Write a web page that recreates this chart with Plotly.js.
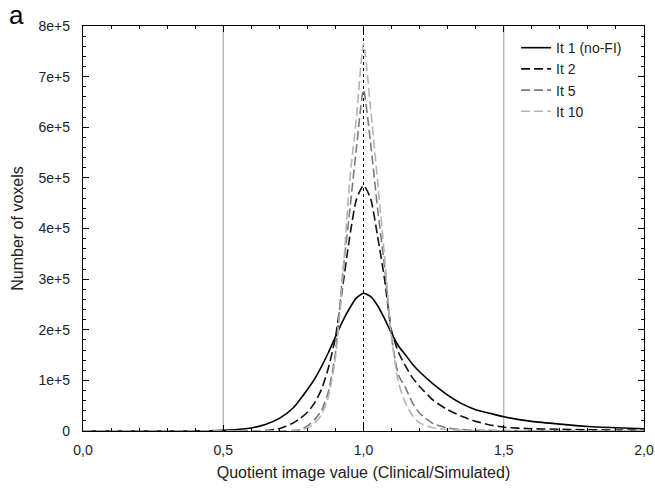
<!DOCTYPE html>
<html>
<head>
<meta charset="utf-8">
<script src="https://cdn.plot.ly/plotly-3.0.1.min.js"></script>
<style>html,body{margin:0;padding:0;background:#fff;}#chart{width:655px;height:491px;}</style>
</head>
<body>
<div id="chart"></div>
<script>
// x positions (quotient image value)
const xVals = [0.0, 0.1, 0.2, 0.3, 0.4, 0.45, 0.5, 0.55, 0.6, 0.65, 0.7, 0.75, 0.775, 0.8, 0.825, 0.85, 0.875, 0.9, 0.925, 0.95, 0.975, 1.0, 1.025, 1.05, 1.075, 1.1, 1.125, 1.15, 1.175, 1.2, 1.25, 1.3, 1.35, 1.4, 1.45, 1.5, 1.6, 1.7, 1.8, 1.9, 2.0];

const it1 = [0, 0, 0, 0, 0, 500, 1500, 3000, 6000, 13000, 25000, 46000, 63000, 82000, 102000, 127000, 155000, 186000, 216000, 242000, 263000, 272000, 266000, 248000, 222000, 193000, 168000, 150000, 132000, 117000, 92000, 71000, 54000, 42000, 35000, 28000, 19000, 13500, 9000, 6500, 4500];
const it2 = [0, 0, 0, 0, 0, 0, 0, 0, 0, 1000, 5000, 16000, 25000, 37000, 55000, 82000, 125000, 185000, 282000, 380000, 458000, 485000, 460000, 385000, 300000, 198000, 155000, 128000, 105000, 88000, 60000, 42000, 29000, 19000, 12000, 7500, 4500, 3500, 2500, 2000, 1500];
const it5 = [0, 0, 0, 0, 0, 0, 0, 0, 0, 0, 0, 1000, 3000, 10000, 22000, 40000, 78000, 155000, 305000, 430000, 560000, 674000, 570000, 440000, 325000, 185000, 110000, 85000, 55000, 35000, 14000, 6000, 3000, 1500, 1200, 1000, 500, 500, 500, 500, 500];
const it10 = [0, 0, 0, 0, 0, 0, 0, 0, 0, 0, 0, 500, 2000, 6000, 15000, 32000, 68000, 145000, 295000, 490000, 620000, 765000, 640000, 495000, 345000, 185000, 95000, 55000, 30000, 16000, 6000, 3000, 1500, 1000, 500, 500, 300, 300, 300, 300, 300];

const seriesNames = ["It 1 (no-FI)", "It 2", "It 5", "It 10"];
const xTickVals = [0, 0.5, 1.0, 1.5, 2.0];
const yTickVals = [0, 100000, 200000, 300000, 400000, 500000, 600000, 700000, 800000];
const yTickText = ["0", "1e+5", "2e+5", "3e+5", "4e+5", "5e+5", "6e+5", "7e+5", "8e+5"];
const greyLines = [0.5, 1.5];
const centreLine = [1.0];

const styles = [
  {color: "#000000", dash: "solid"},
  {color: "#111111", dash: "9px,4px"},
  {color: "#7a7a7a", dash: "9px,4px"},
  {color: "#b4b4b4", dash: "9px,4px"}
];
const ys = [it1, it2, it5, it10];
const traces = ys.map((y, i) => ({
  x: xVals, y: y, type: "scatter", mode: "lines", name: seriesNames[i],
  line: {color: styles[i].color, dash: styles[i].dash, width: 1.6, shape: "spline", smoothing: 0.6}
}));

const shapes = [];
greyLines.forEach(v => shapes.push({type: "line", xref: "x", yref: "paper", x0: v, x1: v, y0: 0, y1: 1, line: {color: "#b0b0b0", width: 1.3}, layer: "below"}));
centreLine.forEach(v => shapes.push({type: "line", xref: "x", yref: "paper", x0: v, x1: v, y0: 0, y1: 1, line: {color: "#000", width: 1, dash: "dot"}, layer: "below"}));

const fam = "Liberation Sans, Arial, sans-serif";
const layout = {
  width: 655, height: 491,
  margin: {l: 83, r: 11, t: 26, b: 60},
  paper_bgcolor: "#fff", plot_bgcolor: "#fff",
  separators: ",.",
  font: {family: fam, size: 14, color: "#222"},
  showlegend: true,
  legend: {x: 0.772, y: 0.985, xanchor: "left", yanchor: "top", bgcolor: "rgba(0,0,0,0)", font: {family: fam, size: 14, color: "#222"}, tracegroupgap: 0, itemwidth: 30},
  xaxis: {
    range: [0, 2], tickvals: xTickVals, tickformat: ".1f",
    ticks: "inside", ticklen: 6, tickcolor: "#000", tickwidth: 1,
    minor: {dtick: 0.1, ticks: "inside", ticklen: 3, tickcolor: "#000", showgrid: false},
    showline: true, linecolor: "#000", linewidth: 1.2, mirror: "ticks",
    showgrid: false, zeroline: false, ticklabelstandoff: 6,
    title: {text: "Quotient image value (Clinical/Simulated)", font: {family: fam, size: 16, color: "#222"}, standoff: 9},
    tickfont: {family: fam, size: 14, color: "#222"}
  },
  yaxis: {
    range: [0, 800000], tickvals: yTickVals, ticktext: yTickText,
    ticks: "inside", ticklen: 6, tickcolor: "#000", tickwidth: 1,
    minor: {dtick: 20000, ticks: "inside", ticklen: 3, tickcolor: "#000", showgrid: false},
    showline: true, linecolor: "#000", linewidth: 1.2, mirror: "ticks",
    showgrid: false, zeroline: false, ticklabelstandoff: 9,
    title: {text: "Number of voxels", font: {family: fam, size: 16, color: "#222"}, standoff: 10},
    tickfont: {family: fam, size: 14, color: "#222"}
  },
  shapes: shapes,
  annotations: [{text: "a", xref: "paper", yref: "paper", x: -0.135, y: 1.07, xanchor: "left", yanchor: "top", showarrow: false, font: {family: fam, size: 26, color: "#000"}}]
};
Plotly.newPlot("chart", traces, layout, {displayModeBar: false, staticPlot: true});
</script>
</body>
</html>
